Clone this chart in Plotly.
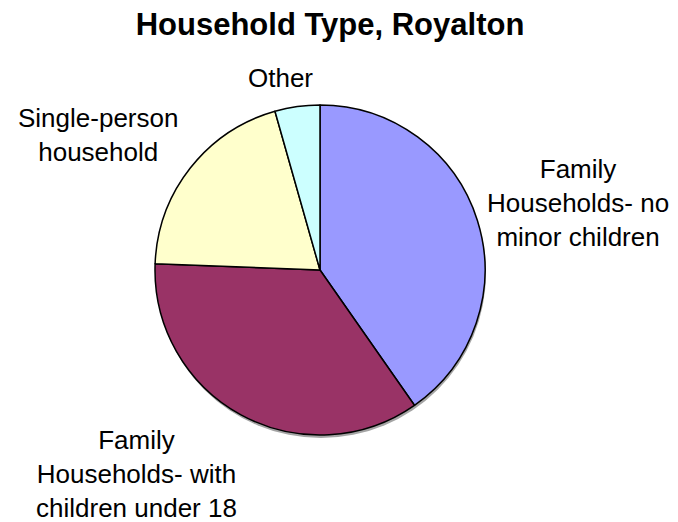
import plotly.graph_objects as go

# household type shares (percent), clockwise from 12 o'clock
categories = [
    "Family Households- no minor children",
    "Family Households- with children under 18",
    "Single-person household",
    "Other",
]
shares = [40.3, 35.3, 20.0, 4.4]
slice_colors = ["#9999FF", "#993366", "#FFFFCC", "#CCFFFF"]

# outside labels as they are broken in the chart
label_texts = [
    "Family<br>Households- no<br>minor children",
    "Family<br>Households- with<br>children under 18",
    "Single-person<br>household",
    "Other",
]

# the page body has an 8px margin, so the figure is drawn 8px smaller
W, H = 670, 514
FONT = "Liberation Sans, Arial, sans-serif"

# label centres in figure pixels (x from left, y from top)
label_px = [(570, 195), (128, 466), (90, 127), (272, 70)]

cx, cy, r = 312, 262, 165


def pie_domain(dx=0, dy=0):
    return dict(
        x=[(cx - r + dx) / W, (cx + r + dx) / W],
        y=[1 - (cy + r + dy) / H, 1 - (cy - r + dy) / H],
    )


fig = go.Figure()

# soft drop shadow under the pie
fig.add_trace(go.Pie(
    values=[sum(shares)],
    marker=dict(colors=["rgba(90,90,90,0.55)"], line=dict(width=0)),
    textinfo="none", hoverinfo="skip", showlegend=False,
    domain=pie_domain(1, 3),
))

fig.add_trace(go.Pie(
    labels=categories,
    values=shares,
    sort=False,
    direction="clockwise",
    rotation=0,
    marker=dict(colors=slice_colors, line=dict(color="black", width=1.5)),
    textinfo="none",
    hoverinfo="skip",
    showlegend=False,
    domain=pie_domain(),
))

for txt, (px, py) in zip(label_texts, label_px):
    fig.add_annotation(
        text=txt, x=px / W, y=1 - py / H, xref="paper", yref="paper",
        xanchor="center", yanchor="middle", showarrow=False,
        align="center", font=dict(family=FONT, size=26, color="black"),
    )

fig.update_layout(
    width=W, height=H,
    margin=dict(l=0, r=0, t=0, b=0),
    paper_bgcolor="white",
    plot_bgcolor="white",
    title=dict(
        text="<b>Household Type, Royalton</b>",
        x=322 / W, xanchor="center", y=1 - 16 / H, yanchor="middle",
        font=dict(family=FONT, size=31, color="black"),
    ),
)

fig.write_html("out.html")
